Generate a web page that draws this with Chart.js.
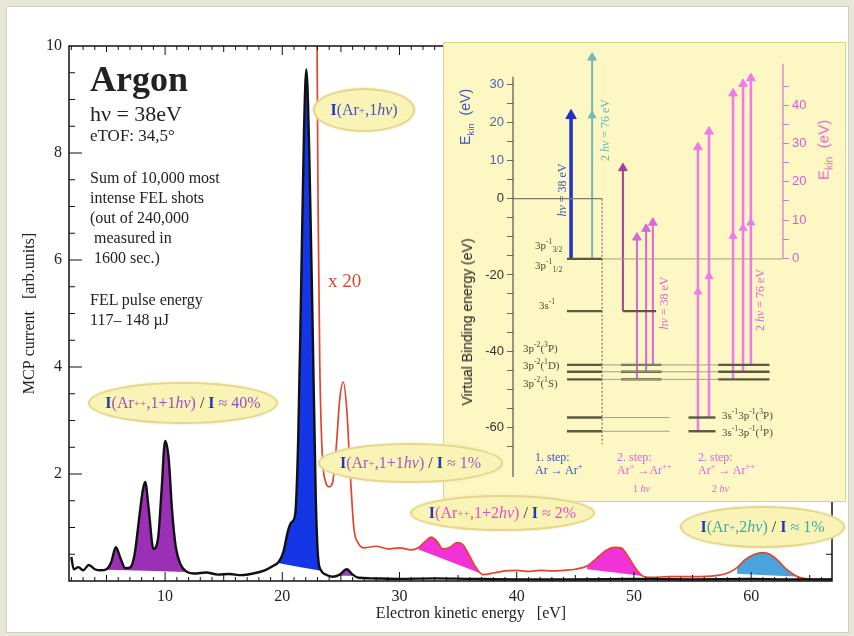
<!DOCTYPE html>
<html>
<head>
<meta charset="utf-8">
<script src="https://cdn.jsdelivr.net/npm/chart.js@4.4.1/dist/chart.umd.min.js"></script>
<style>
html, body { margin: 0; padding: 0; }
body { width: 854px; height: 636px; background: #e7e7d8; position: relative; overflow: hidden; font-family: 'Liberation Serif', serif; color: #222; }
#panel { position: absolute; left: 6px; top: 6px; width: 841px; height: 625px; background: #fff; border: 1px solid #d2d2c2; }
#main { position: absolute; left: 0; top: 0; z-index: 1; }
#inset { position: absolute; left: 443px; top: 42px; width: 403px; height: 460px; box-sizing: border-box; background: #fcf7c3; border: 1px solid #e3d38a; z-index: 2; }
#insetChart { position: absolute; left: 0; top: 0; }
.t { position: absolute; white-space: nowrap; z-index: 4; line-height: 1; }
.rot { transform: translate(-50%, -50%) rotate(-90deg); }
.sans { font-family: 'Liberation Sans', sans-serif; }
.lvl { font-size: 11px; color: #4b4b3a; transform: translateY(-50%); }
.stp { font-size: 12px; transform: translateY(-50%); }
.ell { position: absolute; z-index: 3; border-radius: 50%; background: #faf3b6; border: 2px solid #e4d68e; box-sizing: border-box; display: flex; align-items: center; justify-content: center; font-size: 16px; white-space: nowrap; box-shadow: 0 0 3px #efe5a6; }
.ell b { color: #2436b8; }
.ell .sl { color: #333; }
sup, sub { font-size: 70%; line-height: 0; }
</style>
</head>
<body>
<div id="panel"></div>
<canvas id="main" width="854" height="636"></canvas>

<div id="inset"><canvas id="insetChart" width="401" height="458"></canvas></div>

<!-- left text block -->
<div class="t" style="left:90px;top:61px;font-size:36px;font-weight:bold;">Argon</div>
<div class="t" style="left:90px;top:103px;font-size:22px;">hν = 38eV</div>
<div class="t" style="left:90px;top:127px;font-size:17px;">eTOF: 34,5°</div>
<div class="t" style="left:90px;top:170px;font-size:16px;">Sum of 10,000 most</div>
<div class="t" style="left:90px;top:190px;font-size:16px;">intense FEL shots</div>
<div class="t" style="left:90px;top:210px;font-size:16px;">(out of 240,000</div>
<div class="t" style="left:94px;top:230px;font-size:16px;">measured in</div>
<div class="t" style="left:94px;top:250px;font-size:16px;">1600 sec.)</div>
<div class="t" style="left:90px;top:292px;font-size:16px;">FEL pulse energy</div>
<div class="t" style="left:90px;top:312px;font-size:16px;">117– 148 µJ</div>
<div class="t" style="left:328px;top:271px;font-size:19px;color:#d9462f;">x 20</div>
<div class="t" style="left:471px;top:613px;font-size:16px;transform:translate(-50%,-50%);">Electron kinetic energy &nbsp; [eV]</div>

<!-- ellipses -->
<div class="ell" style="left:313px;top:88px;width:102px;height:44px;color:#4655b5;"><b>I</b>(Ar<sup>+</sup>,1<i>hν</i>)</div>
<div class="ell" style="left:88px;top:382px;width:190px;height:42px;color:#9d4fc0;"><b>I</b>(Ar<sup>++</sup>,1+1<i>hν</i>)&nbsp;<span class="sl">/</span>&nbsp;<b>I</b>&nbsp;≈ 40%</div>
<div class="ell" style="left:318px;top:443px;width:185px;height:40px;color:#a659c0;"><b>I</b>(Ar<sup>+</sup>,1+1<i>hν</i>)&nbsp;<span class="sl">/</span>&nbsp;<b>I</b>&nbsp;≈ 1%</div>
<div class="ell" style="left:410px;top:495px;width:185px;height:36px;color:#e24fcc;"><b>I</b>(Ar<sup>++</sup>,1+2<i>hν</i>)&nbsp;<span class="sl">/</span>&nbsp;<b>I</b>&nbsp;≈ 2%</div>
<div class="ell" style="left:680px;top:506px;width:165px;height:42px;color:#3fa9a9;"><b>I</b>(Ar<sup>+</sup>,2<i>hν</i>)&nbsp;<span class="sl">/</span>&nbsp;<b>I</b>&nbsp;≈ 1%</div>

<!-- inset texts -->
<div class="t rot sans" style="left:465px;top:117px;font-size:14px;color:#3c54c2;">E<sub>kin</sub> &nbsp;(eV)</div>
<div class="t rot sans" style="left:467px;top:322px;font-size:14px;color:#222;">Virtual Binding energy (eV)</div>
<div class="t rot sans" style="left:823px;top:150px;font-size:15px;color:#dd66d6;">E<sub>kin</sub> &nbsp;(eV)</div>
<div class="t rot" style="left:562px;top:190px;font-size:12px;color:#3a4fc0;"><i>hν</i> = 38 eV</div>
<div class="t rot" style="left:605px;top:130px;font-size:12px;color:#6ab4b4;">2 <i>hν</i> = 76 eV</div>
<div class="t rot" style="left:664px;top:303px;font-size:12px;color:#dd66d6;"><i>hν</i> = 38 eV</div>
<div class="t rot" style="left:760px;top:300px;font-size:12px;color:#dd66d6;">2 <i>hν</i> = 76 eV</div>

<div class="t lvl" style="left:535px;top:245px;">3p<sup>-1</sup><sub>3/2</sub></div>
<div class="t lvl" style="left:535px;top:265px;">3p<sup>-1</sup><sub>1/2</sub></div>
<div class="t lvl" style="left:539px;top:305px;">3s<sup>-1</sup></div>
<div class="t lvl" style="left:523px;top:348px;">3p<sup>-2</sup>(<sup>3</sup>P)</div>
<div class="t lvl" style="left:523px;top:365px;">3p<sup>-2</sup>(<sup>1</sup>D)</div>
<div class="t lvl" style="left:523px;top:383px;">3p<sup>-2</sup>(<sup>1</sup>S)</div>
<div class="t lvl" style="left:722px;top:415px;">3s<sup>-1</sup>3p<sup>-1</sup>(<sup>3</sup>P)</div>
<div class="t lvl" style="left:722px;top:432px;">3s<sup>-1</sup>3p<sup>-1</sup>(<sup>1</sup>P)</div>

<div class="t stp" style="left:535px;top:457px;color:#3c54c2;">1. step:</div>
<div class="t stp" style="left:535px;top:470px;color:#3c54c2;">Ar → Ar<sup>+</sup></div>
<div class="t stp" style="left:617px;top:457px;color:#dd66d6;">2. step:</div>
<div class="t stp" style="left:617px;top:470px;color:#dd66d6;">Ar<sup>+</sup> →Ar<sup>++</sup></div>
<div class="t stp" style="left:633px;top:489px;color:#dd66d6;font-size:10px;">1 <i>hν</i></div>
<div class="t stp" style="left:698px;top:457px;color:#dd66d6;">2. step:</div>
<div class="t stp" style="left:698px;top:470px;color:#dd66d6;">Ar<sup>+</sup> → Ar<sup>++</sup></div>
<div class="t stp" style="left:712px;top:489px;color:#dd66d6;font-size:10px;">2 <i>hν</i></div>

<script>
// ---- spectrum (MCP current vs electron kinetic energy)
const energy = [2.0, 2.2, 2.6, 3.0, 3.5, 4.0, 4.5, 5.0, 5.4, 5.8, 6.2, 6.6, 7.0, 7.4, 7.8, 8.1, 8.3, 8.6, 9.0, 9.4,
  9.7, 10.0, 10.3, 10.6, 10.9, 11.3, 11.8, 12.5, 13.5, 14.5, 15.5, 16.5, 17.5, 18.5, 19.2, 19.7, 20.1, 20.5, 20.8, 21.1,
  21.35, 21.6, 21.85, 22.05, 22.3, 22.6, 22.85, 23.05, 23.3, 23.7, 24.3, 24.9, 25.5, 26.0, 26.5, 27.5, 30, 33, 36, 40,
  45, 50, 55, 60, 63, 66.9];
const mcp = [0.45, 0.22, 0.26, 0.2, 0.3, 0.22, 0.2, 0.22, 0.35, 0.63, 0.42, 0.24, 0.25, 0.5, 1.2, 1.7, 1.85, 1.35, 0.6, 0.8,
  1.7, 2.62, 2.3, 1.3, 0.65, 0.32, 0.18, 0.14, 0.16, 0.12, 0.13, 0.11, 0.14, 0.2, 0.28, 0.36, 0.55, 0.95, 1.1, 1.25,
  2.6, 5.4, 8.4, 9.56, 8.0, 4.6, 1.6, 0.45, 0.2, 0.12, 0.08, 0.12, 0.22, 0.12, 0.06, 0.05, 0.04, 0.05, 0.04, 0.03,
  0.03, 0.04, 0.03, 0.04, 0.03, 0.03];

// same spectrum, magnified x 20
const energyX20 = [22.95, 23.05, 23.2, 23.4, 23.7, 24.0, 24.3, 24.6, 24.9, 25.2, 25.5, 25.8, 26.1, 26.5, 27.0, 28.0, 29.0,
  30.0, 31.0, 31.6, 32.2, 32.7, 33.2, 33.7, 34.3, 34.9, 35.4, 35.9, 36.5, 37.1, 38.0, 39.0, 40.0, 41.0, 42.0, 43.0, 44.0,
  45.0, 46.0, 46.8, 47.6, 48.3, 48.9, 49.5, 50.1, 50.7, 51.5, 53.0, 55.0, 57.0, 58.0, 58.8, 59.5, 60.3, 61.0, 61.6, 62.3,
  63.0, 63.8, 64.5, 66.0, 66.9];
const mcpX20 = [10.6, 7.0, 4.0, 2.4, 1.85, 1.76, 1.85, 2.5, 3.4, 3.72, 3.2, 2.0, 1.0, 0.7, 0.62, 0.65, 0.6,
  0.62, 0.58, 0.62, 0.74, 0.82, 0.74, 0.6, 0.63, 0.72, 0.68, 0.5, 0.26, 0.12, 0.15, 0.19, 0.2, 0.18, 0.2, 0.19, 0.2,
  0.22, 0.28, 0.42, 0.57, 0.63, 0.62, 0.46, 0.25, 0.1, 0.07, 0.08, 0.08, 0.1, 0.15, 0.25, 0.4, 0.5, 0.53, 0.5, 0.38,
  0.22, 0.1, 0.05, 0.03, 0.03];

// shaded peak areas: source curve, energy range, baseline at both ends
const fillSource = ['mcp', 'mcp', 'mcp', 'x20', 'x20', 'x20'];
const fillFrom = [4.9, 19.6, 24.8, 31.5, 45.9, 58.3];
const fillTo = [11.9, 23.35, 26.1, 37.2, 50.9, 64.0];
const fillBaseFrom = [0.21, 0.34, 0.1, 0.6, 0.22, 0.14];
const fillBaseTo = [0.17, 0.19, 0.1, 0.12, 0.09, 0.08];
const fillColors = ['#9b2fb5', '#1436e6', '#9b40c0', '#f032d6', '#f032d6', '#4aa3dc'];

const xTicks = [10, 20, 30, 40, 50, 60];
const yTicks = [2, 4, 6, 8, 10];

// ---- inset: energy level scheme
const levelEnergy = [-15.8, -29.5, -43.6, -45.4, -47.4, -57.4, -61.0];
const levelThick = [[0, 20, 33], [1, 20, 33], [1, 40.7, 53], [2, 20, 33], [2, 40, 55], [2, 76, 95], [3, 20, 33], [3, 40, 55],
  [3, 76, 95], [4, 20, 33], [4, 40, 55], [4, 76, 95], [5, 20, 33], [5, 65, 75], [6, 20, 33], [6, 65, 75]];
const levelThin = [[0, 33, 100], [2, 33, 76], [3, 33, 76], [4, 33, 76], [5, 33, 58], [6, 33, 58]];
const arrowX = [21.5, 29.3, 40.7, 45.9, 49.3, 51.8, 68.5, 72.6, 81.5, 85.2, 88.1];
const arrowFrom = [-15.8, -15.8, -29.5, -47.4, -45.4, -43.6, -61.0, -57.4, -47.4, -45.4, -43.6];
const arrowTo = [21.8, 37.0, 8.0, -10.2, -7.9, -6.3, 13.5, 17.6, 27.6, 30.1, 31.6];
const arrowMid = [null, 21.8, null, null, null, null, -24.4, -20.4, -9.8, -7.7, -6.3];
const arrowColors = ['#1f30c4', '#72b9b9', '#a23f9c', '#d967d6', '#d967d6', '#d967d6', '#ee7aec', '#ee7aec', '#ee7aec', '#ee7aec', '#ee7aec'];
const arrowWidths = [3.5, 2, 2, 2, 2, 2, 2.5, 2.5, 2.5, 2.5, 2.5];
const insetLeftLabels = [30, 20, 10, 0, -20, -40, -60];
const insetRightLabels = [0, 10, 20, 30, 40, 50];
const ekinOffset = 15.6; // right scale zero = 3p^-1 level

const serif = "'Liberation Serif', serif";
const sans = "'Liberation Sans', sans-serif";
const pts = (xs, ys) => xs.map((x, i) => ({ x, y: ys[i] }));
const pick = (xs, ys, lo, hi) => pts(xs, ys).filter(p => p.x >= lo && p.x <= hi);

const mainSets = [
  { label: 'MCP current', data: pts(energy, mcp), borderColor: '#111', borderWidth: 2.4, order: 0 },
  { label: 'x 20', data: pts(energyX20, mcpX20), borderColor: '#e2452f', borderWidth: 1.7, order: 0 }
];
fillFrom.forEach((lo, i) => {
  const hi = fillTo[i];
  const src = fillSource[i] === 'mcp' ? [energy, mcp] : [energyX20, mcpX20];
  const baseIdx = mainSets.length;
  mainSets.push({ label: 'base ' + i, data: [{ x: lo, y: fillBaseFrom[i] }, { x: hi, y: fillBaseTo[i] }],
    borderWidth: 0, borderColor: 'rgba(0,0,0,0)', order: 2 });
  mainSets.push({ label: 'area ' + i, data: pick(src[0], src[1], lo, hi), borderWidth: 0,
    backgroundColor: fillColors[i], fill: baseIdx, order: 1 });
});

// frame with inward ticks on all four sides
const frameTicks = {
  id: 'frameTicks',
  afterDraw(chart) {
    const { ctx, chartArea: a, scales: { x, y } } = chart;
    const line = (x0, y0, x1, y1) => { ctx.beginPath(); ctx.moveTo(x0, y0); ctx.lineTo(x1, y1); ctx.stroke(); };
    ctx.save();
    ctx.strokeStyle = '#111';
    ctx.lineWidth = 1.5;
    ctx.strokeRect(a.left, a.top, a.right - a.left, a.bottom - a.top);
    ctx.lineWidth = 1;
    for (let v = Math.ceil(x.min); v <= x.max; v++) {
      const px = x.getPixelForValue(v);
      const len = v % 10 === 0 ? 9 : (v % 5 === 0 ? 6 : 4);
      line(px, a.bottom, px, a.bottom - len);
      line(px, a.top, px, a.top + len);
    }
    for (let v = 0.5; v < y.max; v += 0.5) {
      const py = y.getPixelForValue(v);
      const len = v % 2 === 0 ? 13 : 6;
      line(a.left, py, a.left + len, py);
      line(a.right, py, a.right - len, py);
    }
    ctx.restore();
  }
};

new Chart(document.getElementById('main'), {
  type: 'line',
  data: { datasets: mainSets },
  options: {
    responsive: false,
    animation: false,
    layout: { padding: { left: 8, right: 22, top: 46, bottom: 8 } },
    elements: { point: { radius: 0 }, line: { cubicInterpolationMode: 'monotone', fill: false } },
    plugins: { legend: { display: false }, tooltip: { enabled: false } },
    scales: {
      x: {
        type: 'linear', min: 1.8, max: 66.9,
        afterBuildTicks: s => { s.ticks = xTicks.map(value => ({ value })); },
        afterFit: s => { s.height = 47; },
        grid: { display: false, drawTicks: false },
        border: { display: false },
        ticks: { padding: 6, autoSkip: false, maxRotation: 0, color: '#222', font: { family: serif, size: 16 } }
      },
      y: {
        min: 0, max: 10,
        afterBuildTicks: s => { s.ticks = yTicks.map(value => ({ value })); },
        afterFit: s => { s.width = 61; },
        grid: { display: false, drawTicks: false },
        border: { display: false },
        ticks: { padding: 7, color: '#222', font: { family: serif, size: 16 } },
        title: { display: true, text: 'MCP current   [arb.units]', color: '#222', font: { family: serif, size: 16 }, padding: { top: 12, bottom: 0 } }
      }
    }
  },
  plugins: [frameTicks]
});

// ---- inset chart
const insetSets = [];
const seg = (x0, x1, y0, y1, color, width, dash) => ({
  data: [{ x: x0, y: y0 }, { x: x1, y: y1 }], borderColor: color, borderWidth: width,
  borderDash: dash || [], pointRadius: 0, clip: false
});
levelThin.forEach(([li, x0, x1]) => insetSets.push(seg(x0, x1, levelEnergy[li], levelEnergy[li], '#a3a388', 1)));
insetSets.push(seg(0, 33, 0, 0, '#7c7c70', 1.2));
insetSets.push(seg(33, 33, 0, -64.4, '#77776a', 1.2, [2, 2]));
levelThick.forEach(([li, x0, x1]) => insetSets.push(seg(x0, x1, levelEnergy[li], levelEnergy[li], '#5a5a44', 2.4)));
arrowX.forEach((x, i) => {
  const data = [{ x, y: arrowFrom[i] }];
  const radii = [0];
  if (arrowMid[i] !== null) { data.push({ x, y: arrowMid[i] }); radii.push(4.5); }
  data.push({ x, y: arrowTo[i] });
  radii.push(arrowWidths[i] > 3 ? 6 : 5);
  insetSets.push({
    data, borderColor: arrowColors[i], borderWidth: arrowWidths[i], pointStyle: 'triangle',
    pointRadius: radii, pointBackgroundColor: arrowColors[i], pointBorderColor: arrowColors[i], pointBorderWidth: 1, clip: false
  });
});

const insetAxes = {
  id: 'insetAxes',
  afterDraw(chart) {
    const { ctx, chartArea: a, scales: { y, y2 } } = chart;
    ctx.save();
    ctx.lineWidth = 1.2;
    ctx.strokeStyle = '#555';
    ctx.beginPath(); ctx.moveTo(a.left, y.getPixelForValue(32)); ctx.lineTo(a.left, y.getPixelForValue(-73)); ctx.stroke();
    ctx.strokeStyle = '#d27ad2';
    ctx.beginPath(); ctx.moveTo(a.right, y2.getPixelForValue(0)); ctx.lineTo(a.right, y2.getPixelForValue(51)); ctx.stroke();
    ctx.restore();
  }
};

new Chart(document.getElementById('insetChart'), {
  type: 'line',
  data: { datasets: insetSets },
  options: {
    responsive: false,
    animation: false,
    layout: { padding: { left: 0, right: 0, top: 1, bottom: 24 } },
    plugins: { legend: { display: false }, tooltip: { enabled: false } },
    scales: {
      x: { type: 'linear', min: 0, max: 100, display: false },
      y: {
        position: 'left', min: -73, max: 38,
        afterBuildTicks: s => { s.ticks = s.ticks.filter(t => t.value >= -70 && t.value <= 30); },
        afterFit: s => { s.width = 69; },
        grid: { drawOnChartArea: false, tickLength: 6, color: '#666' },
        border: { display: false },
        ticks: {
          stepSize: 5, autoSkip: false, padding: 3,
          font: { family: sans, size: 13 },
          color: c => c.tick.value > 0 ? '#4a63c0' : '#333',
          callback: v => insetLeftLabels.includes(v) ? String(v) : ''
        }
      },
      y2: {
        position: 'right', min: -73 + ekinOffset, max: 38 + ekinOffset,
        afterBuildTicks: s => { s.ticks = s.ticks.filter(t => t.value >= 0 && t.value <= 50); },
        afterFit: s => { s.width = 62; },
        grid: { drawOnChartArea: false, tickLength: 6, color: '#d27ad2' },
        border: { display: false },
        ticks: {
          stepSize: 5, autoSkip: false, padding: 3,
          font: { family: sans, size: 13 }, color: '#d65fd0',
          callback: v => insetRightLabels.includes(v) ? String(v) : ''
        }
      }
    }
  },
  plugins: [insetAxes]
});
</script>
</body>
</html>
